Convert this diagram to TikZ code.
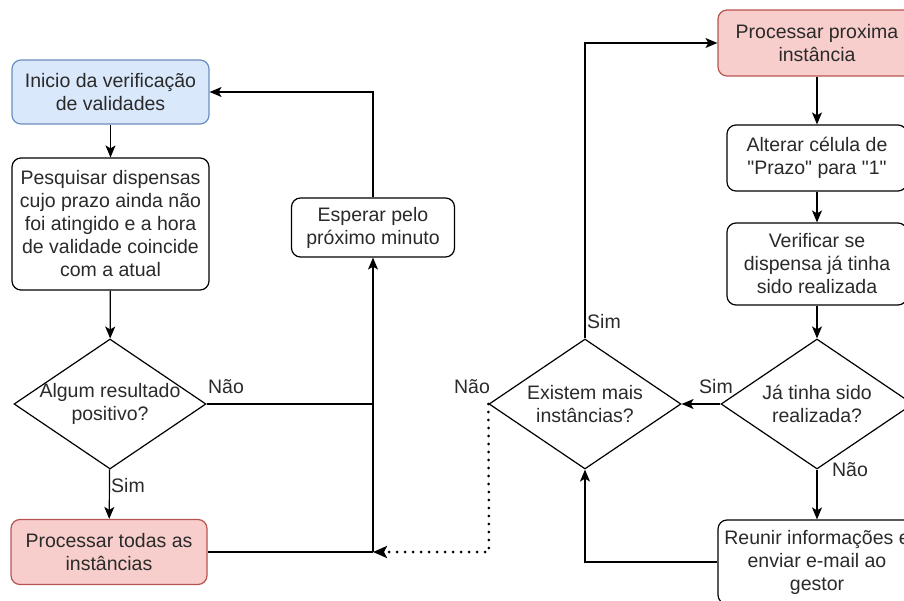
\documentclass[tikz,border=0pt]{standalone}
\usepackage{fontspec}
\setmainfont{Liberation Sans}[Ligatures=TeXOff]
\usetikzlibrary{arrows.meta,shapes.geometric,calc}
\definecolor{bluefill}{HTML}{DAE8FC}
\definecolor{bluedraw}{HTML}{6C8EBF}
\definecolor{redfill}{HTML}{F8CECC}
\definecolor{reddraw}{HTML}{B85450}
\definecolor{txt}{HTML}{2A2A2A}
\begin{document}
\begin{tikzpicture}[x=1pt,y=-1pt,
  every node/.style={font=\fontsize{19.5}{23}\selectfont, text=txt},
  box/.style={draw, line width=1.2pt, rounded corners=9pt, align=center, inner sep=0pt, fill=white},
  startbox/.style={box, fill=bluefill, draw=bluedraw},
  redbox/.style={box, fill=redfill, draw=reddraw},
  dia/.style={draw, diamond, line width=1.2pt, inner sep=0pt, minimum width=192pt, minimum height=130pt},
  dtext/.style={align=center, inner sep=0pt},
  lbl/.style={inner sep=0pt},
  conn/.style={line width=1.2pt},
  arr/.style={conn, -{Stealth[length=12pt,width=10pt,inset=3pt]}},
  dotarr/.style={line width=3pt, line cap=round, dash pattern=on 0pt off 8pt, -{Stealth[length=14pt,width=12pt,inset=3pt]}}
]
\useasboundingbox (0,0) rectangle (904,601);

% left column
\node[startbox, minimum width=197pt, minimum height=64pt] (inicio) at (110.5,92) {Inicio da verificação\\de validades};
\node[box, minimum width=197pt, minimum height=132pt] (pesq) at (110.5,224) {Pesquisar dispensas\\cujo prazo ainda não\\foi atingido e a hora\\de validade coincide\\com a atual};
\node[dia] (d1) at (110,404) {};
\node[dtext] (d1t) at (d1.center) {Algum resultado\\positivo?};
\node[redbox, minimum width=196pt, minimum height=65pt] (proc1) at (109,552) {Processar todas as\\instâncias};
\node[box, minimum width=163pt, minimum height=59pt] (esp) at (373,227.5) {Esperar pelo\\próximo minuto};

% right column
\node[redbox, minimum width=198pt, minimum height=66pt] (prox) at (817,43) {Processar proxima\\instância};
\node[box, minimum width=180pt, minimum height=66pt] (alt) at (817,158) {Alterar célula de\\"Prazo" para "1"};
\node[box, minimum width=180pt, minimum height=82pt] (ver) at (817,264) {Verificar se\\dispensa já tinha\\sido realizada};
\node[dia] (d2) at (817,404) {};
\node[dtext] (d2t) at (d2.center) {Já tinha sido\\realizada?};
\node[dia] (d3) at (585,404) {};
\node[dtext] (d3t) at (d3.center) {Existem mais\\instâncias?};
\node[box, minimum width=198pt, minimum height=84pt] (reu) at (817,562) {Reunir informações e\\enviar e-mail ao\\gestor};

% junction coordinates
\coordinate (j1) at (373,404);
\coordinate (j2) at (373,552);
\coordinate (jd) at (489,552);

% connectors left
\draw[arr] (inicio) -- (pesq);
\draw[arr] (pesq) -- (d1);
\draw[arr] (d1) -- (proc1);
\draw[conn] (d1.east) -- (j1);
\draw[conn] (proc1.east) -- (j2);
\draw[arr] (j2) -- (esp.south);
\draw[arr] (esp.north) |- (inicio.east);
\draw[dotarr] (d3.west) -- (jd) -- (j2);

% connectors right
\draw[arr] (prox) -- (alt);
\draw[arr] (alt) -- (ver);
\draw[arr] (ver) -- (d2);
\draw[arr] (d2.west) -- (d3.east);
\draw[arr] (d2.south) -- (reu.north);
\draw[arr] (reu.west) -| (d3.south);
\draw[arr] (d3.north) |- (prox.west);

% labels
\node[lbl] (l1) at (226,387) {Não};
\node[lbl] (l2) at (128,486) {Sim};
\node[lbl] (l3) at (472,387) {Não};
\node[lbl] (l4) at (604,322) {Sim};
\node[lbl] (l5) at (716,387) {Sim};
\node[lbl] (l6) at (850,470) {Não};
\end{tikzpicture}
\end{document}
